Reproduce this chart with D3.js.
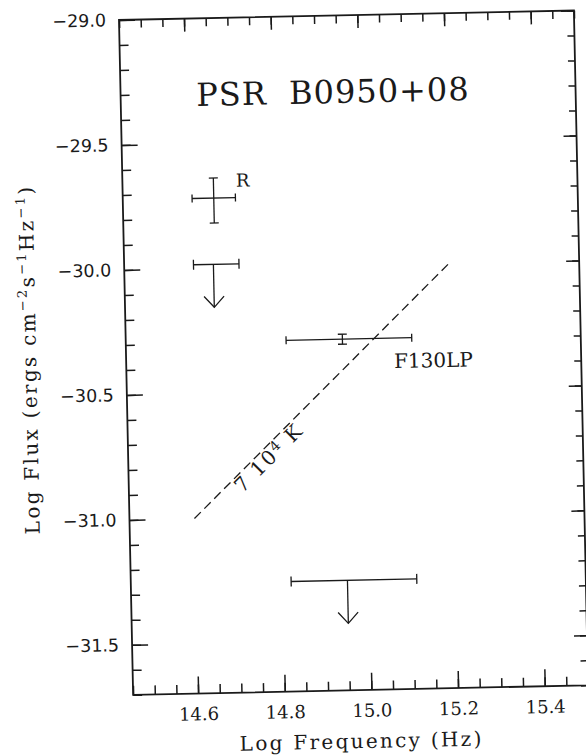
<!DOCTYPE html>
<html><head><meta charset="utf-8">
<script src="https://cdn.jsdelivr.net/npm/d3@7"></script>
<style>
body{margin:0;background:#fff}
text{fill:#1a1a1a}
</style>
</head><body>
<svg id="c" width="586" height="755"></svg>
<script>
// ---------- data ----------
const xDomain = [14.45, 15.5];          // Log Frequency (Hz)
const yDomain = [-31.7, -29.0];         // Log Flux
const xMajorTicks = [14.6, 14.8, 15.0, 15.2, 15.4];
const yMajorTicks = [-29.0, -29.5, -30.0, -30.5, -31.0, -31.5];
const titleText = "PSR  B0950+08";
const xTitle = "Log Frequency (Hz)";

// detections with error bars
const detLabels = ["R", "F130LP"];
const detX    = [14.66, 14.95];
const detXlo  = [14.61, 14.82];
const detXhi  = [14.71, 15.11];
const detY    = [-29.72, -30.295];
const detYlo  = [-29.82, -30.315];
const detYhi  = [-29.64, -30.275];
const detLabelX = [14.712, 15.068];
const detLabelY = [-29.677, -30.415];

// upper limits
const limX   = [14.656, 14.95];
const limXlo = [14.61, 14.82];
const limXhi = [14.715, 15.11];
const limY   = [-29.985, -31.26];

// blackbody (Rayleigh-Jeans) line, 7 10^4 K
const bbX = [14.6, 15.2];
const bbY = [-31.0, -30.0];
const bbLabelPos = [14.712, -30.905];

// ---------- layout ----------
const W = 455, H = 675;
const svg = d3.select("#c");
svg.append("rect").attr("width",586).attr("height",755).attr("fill","#fff");
const g = svg.append("g").attr("transform","translate(119,20) rotate(-1.2)");
const ink = "#1a1a1a";

const x = d3.scaleLinear().domain(xDomain).range([0, W]);
const y = d3.scaleLinear().domain(yDomain).range([H, 0]);

const xMinor = d3.range(0, 22).map(i => +(14.45 + i*0.05).toFixed(2));
const yMinor = d3.range(0, 28).map(i => +(-31.7 + i*0.1).toFixed(1));

function clean(sel){ sel.select(".domain").remove(); sel.selectAll("line").attr("stroke",ink).attr("stroke-width",1.5); }

// bottom
g.append("g").attr("transform",`translate(0,${H})`)
  .call(d3.axisBottom(x).tickValues(xMinor).tickSize(-9).tickSizeOuter(0).tickFormat("")).call(clean);
const bx = g.append("g").attr("transform",`translate(0,${H})`)
  .call(d3.axisBottom(x).tickValues(xMajorTicks).tickSize(-17).tickSizeOuter(0).tickPadding(14).tickFormat(d3.format(".1f")))
  .call(clean);
bx.selectAll("text").attr("font-family","DejaVu Serif").attr("font-size",18).attr("fill",ink);
bx.attr("font-family",null).attr("font-size",null);
// top
g.append("g").call(d3.axisTop(x).tickValues(xMinor).tickSize(-8).tickSizeOuter(0).tickFormat("")).call(clean);
g.append("g").call(d3.axisTop(x).tickValues(xMajorTicks).tickSize(-13).tickSizeOuter(0).tickFormat("")).call(clean);
// left
g.append("g").call(d3.axisLeft(y).tickValues(yMinor).tickSize(-9).tickSizeOuter(0).tickFormat("")).call(clean);
const ly = g.append("g").call(d3.axisLeft(y).tickValues(yMajorTicks).tickSize(-16).tickSizeOuter(0).tickPadding(13).tickFormat(d3.format(".1f"))).call(clean);
ly.selectAll("text").attr("font-family","DejaVu Sans").attr("font-size",17.5).attr("fill",ink);
ly.attr("font-family",null).attr("font-size",null);
// right
g.append("g").attr("transform",`translate(${W},0)`)
  .call(d3.axisRight(y).tickValues(yMinor).tickSize(-7).tickSizeOuter(0).tickFormat("")).call(clean);
g.append("g").attr("transform",`translate(${W},0)`)
  .call(d3.axisRight(y).tickValues(yMajorTicks).tickSize(-13).tickSizeOuter(0).tickFormat("")).call(clean);

// frame
g.append("rect").attr("x",x(xDomain[0])).attr("y",y(yDomain[1]))
  .attr("width",x(xDomain[1])-x(xDomain[0])).attr("height",y(yDomain[0])-y(yDomain[1]))
  .attr("fill","none").attr("stroke",ink).attr("stroke-width",1.8);

// axis titles
g.append("text").attr("x",W/2).attr("y",H+58).attr("text-anchor","middle")
  .attr("font-family","DejaVu Serif").attr("font-size",20).attr("letter-spacing",2.3)
  .text(xTitle);
const yt = g.append("text").attr("transform",`translate(-90,${H/2}) rotate(-90)`)
  .attr("text-anchor","middle").attr("font-family","DejaVu Serif").attr("font-size",20).attr("letter-spacing",2.3);
yt.append("tspan").text("Log Flux (ergs cm");
yt.append("tspan").attr("font-size",13).attr("dy",-8).text("−2");
yt.append("tspan").attr("dy",8).text("s");
yt.append("tspan").attr("font-size",13).attr("dy",-8).text("−1");
yt.append("tspan").attr("dy",8).text("Hz");
yt.append("tspan").attr("font-size",13).attr("dy",-8).text("−1");
yt.append("tspan").attr("dy",8).text(")");

// title
g.append("text").attr("x",x(14.94)).attr("y",y(-29.35)).attr("text-anchor","middle")
  .attr("font-family","DejaVu Serif").attr("font-size",32).attr("letter-spacing",1)
  .style("white-space","pre").text(titleText);

// blackbody dashed line
g.append("path").datum(bbX.map((v,i)=>[v,bbY[i]]))
  .attr("d", d3.line().x(d=>x(d[0])).y(d=>y(d[1])))
  .attr("fill","none").attr("stroke",ink).attr("stroke-width",1.3).attr("stroke-dasharray","9,5");
const ang = Math.atan2(y(bbY[1])-y(bbY[0]), x(bbX[1])-x(bbX[0]))*180/Math.PI;
const bl = g.append("text").attr("transform",`translate(${x(bbLabelPos[0])},${y(bbLabelPos[1])}) rotate(${ang})`)
  .attr("font-family","DejaVu Serif").attr("font-size",20).attr("letter-spacing",2);
bl.append("tspan").text("7");
bl.append("tspan").attr("dx",8).text("10");
bl.append("tspan").attr("font-size",14).attr("dy",-6).text("4");
bl.append("tspan").attr("dy",6).attr("dx",8).text("K");

// detections
const dg = g.append("g").attr("stroke",ink).attr("stroke-width",1.3).attr("fill","none");
detX.forEach((xv,i)=>{
  const cy = y(detY[i]), cx = x(xv);
  dg.append("line").attr("x1",x(detXlo[i])).attr("x2",x(detXhi[i])).attr("y1",cy).attr("y2",cy);
  [detXlo[i],detXhi[i]].forEach(e=>dg.append("line").attr("x1",x(e)).attr("x2",x(e)).attr("y1",cy-4).attr("y2",cy+4));
  dg.append("line").attr("x1",cx).attr("x2",cx).attr("y1",y(detYlo[i])).attr("y2",y(detYhi[i]));
  [detYlo[i],detYhi[i]].forEach(e=>dg.append("line").attr("x1",cx-4.5).attr("x2",cx+4.5).attr("y1",y(e)).attr("y2",y(e)));
  g.append("text").attr("x",x(detLabelX[i])).attr("y",y(detLabelY[i]))
    .attr("font-family","DejaVu Serif").attr("font-size", i===0?18:20).text(detLabels[i]);
});

// upper limits
limX.forEach((xv,i)=>{
  const cy = y(limY[i]), cx = x(xv), tip = cy + 43;
  dg.append("line").attr("x1",x(limXlo[i])).attr("x2",x(limXhi[i])).attr("y1",cy).attr("y2",cy);
  [limXlo[i],limXhi[i]].forEach(e=>dg.append("line").attr("x1",x(e)).attr("x2",x(e)).attr("y1",cy-5).attr("y2",cy+5));
  dg.append("line").attr("x1",cx).attr("x2",cx).attr("y1",cy).attr("y2",tip);
  dg.append("path").attr("d",`M${cx-10},${tip-11}L${cx},${tip}L${cx+10},${tip-11}`);
});
</script>
</body></html>
